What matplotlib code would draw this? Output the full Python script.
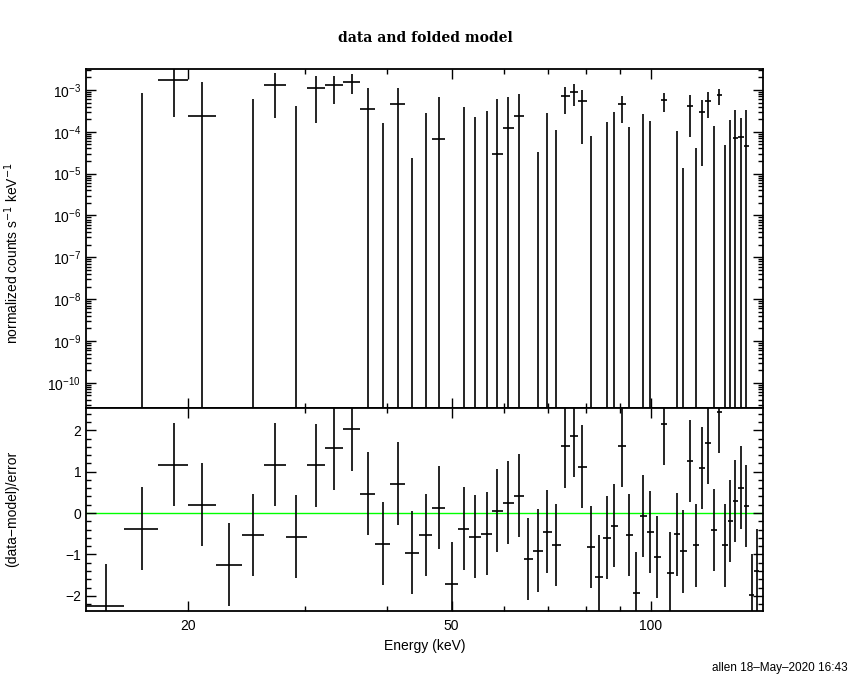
"""
XSPEC style plot: data and folded model (top) with residuals in
units of sigma (bottom). Output: out.png
"""

import numpy as np
import matplotlib.pyplot as plt
from matplotlib.ticker import (FixedLocator, FuncFormatter, LogLocator,
                               MultipleLocator, NullFormatter)

# Energy bin edges (keV), 58 channels
edges = np.array([
    14.0, 16.0, 18.0, 20.0, 22.0, 24.07, 26.0, 28.06, 30.18, 32.13,
    34.27, 36.35, 38.30, 40.42, 42.58, 44.71, 46.78, 48.94, 51.12, 53.20,
    55.47, 57.53, 59.78, 62.11, 64.31, 66.35, 68.70, 70.89, 73.14, 75.47,
    77.60, 80.06, 82.32, 84.80, 87.04, 89.18, 91.70, 93.96, 96.44, 98.65,
    101.26, 103.57, 105.94, 108.36, 110.84, 113.37, 115.77, 118.21, 120.70, 123.25,
    125.85, 128.28, 130.76, 133.05, 135.62, 138.24, 140.91, 143.38, 146.15,
])

# normalized counts s^-1 keV^-1 per channel
rate = np.array([
    -3.4e-3, -5.3e-4, 1.76e-3, 2.44e-4, -1.5e-3, -7.0e-4, 1.34e-3, -5.6e-4, 1.14e-3, 1.34e-3,
    1.58e-3, 3.6e-4, -4.5e-4, 4.7e-4, -5.86e-4, -3.25e-4, 6.9e-5, -1.03e-3, -2.45e-4, -2.9e-4,
    -3.2e-4, 2.9e-5, 1.26e-4, 2.44e-4, -5.6e-4, -3.27e-4, -2.23e-4, -3.8e-4, 7.3e-4, 9.1e-4,
    5.3e-4, -3.5e-4, -6.2e-4, -2.5e-4, -1.3e-4, 4.5e-4, -1.43e-4, -5.8e-4, -1.9e-5, -1.6e-4,
    -3.0e-4, 5.8e-4, -3.6e-4, -1.07e-4, -1.56e-4, 4.2e-4, -1.58e-4, 3.0e-4, 5.5e-4, -9.3e-5,
    7.4e-4, -1.67e-4, -4.6e-5, 7.3e-5, 7.6e-5, 4.65e-5, -5.0e-4, -3.5e-4,
])

rate_err = np.array([
    1.5e-3, 1.39e-3, 1.54e-3, 1.33e-3, 1.2e-3, 1.32e-3, 1.13e-3, 9.8e-4, 9.8e-4, 8.7e-4,
    7.8e-4, 7.8e-4, 6.1e-4, 6.6e-4, 6.1e-4, 6.1e-4, 6.2e-4, 6.0e-4, 6.45e-4, 5.1e-4,
    6.4e-4, 5.9e-4, 5.67e-4, 5.7e-4, 5.0e-4, 3.6e-4, 5.0e-4, 4.9e-4, 4.7e-4, 5.0e-4,
    4.8e-4, 4.3e-4, 4.0e-4, 4.2e-4, 4.2e-4, 2.85e-4, 2.7e-4, 3.0e-4, 2.8e-4, 3.4e-4,
    2.8e-4, 2.8e-4, 2.5e-4, 2.1e-4, 1.7e-4, 3.45e-4, 2.0e-4, 2.85e-4, 3.4e-4, 2.3e-4,
    3.0e-4, 2.15e-4, 2.4e-4, 2.5e-4, 1.35e-4, 2.9e-4, 2.5e-4, 2.5e-4,
])

# (data-model)/error
resid = np.array([
    -2.24, -0.38, 1.17, 0.20, -1.25, -0.53, 1.17, -0.57, 1.15, 1.56,
    2.02, 0.47, -0.74, 0.71, -0.96, -0.53, 0.13, -1.71, -0.38, -0.57,
    -0.50, 0.06, 0.25, 0.42, -1.11, -0.91, -0.45, -0.77, 1.61, 1.87,
    1.12, -0.82, -1.54, -0.60, -0.31, 1.63, -0.53, -1.94, -0.07, -0.46,
    -1.06, 2.15, -1.45, -0.51, -0.92, 1.26, -0.78, 1.09, 1.69, -0.41,
    2.45, -0.78, -0.19, 0.29, 0.61, 0.17, -1.99, -1.39,
])

e_lo = edges[:-1]
e_hi = edges[1:]
e_mid = 0.5 * (e_lo + e_hi)

plt.rcParams['font.family'] = ['Liberation Sans', 'DejaVu Sans']
plt.rcParams['axes.linewidth'] = 1.3

fig = plt.figure(figsize=(8.5, 6.8), dpi=100)
ax1 = fig.add_axes([0.1012, 0.4007, 0.7968, 0.4978])
ax2 = fig.add_axes([0.1012, 0.1019, 0.7968, 0.2988], sharex=ax1)

LW = 1.2

# Top panel: data points (negative lower bounds run off the bottom)
up = rate + rate_err
low = np.where(rate - rate_err > 0, rate - rate_err, 1e-30)
shown = up > 0
ax1.vlines(e_mid[shown], low[shown], up[shown], color='k', lw=LW)
pos = rate > 0
ax1.hlines(rate[pos], e_lo[pos], e_hi[pos], color='k', lw=LW)

ax1.set_xscale('log')
ax1.set_yscale('log')
ax1.set_xlim(14.0, 148.1)
ax1.set_ylim(2.58e-11, 3.16e-3)
ax1.yaxis.set_major_locator(LogLocator(base=10, numticks=30))
ax1.yaxis.set_minor_locator(LogLocator(base=10, subs=np.arange(2, 10), numticks=30))
ax1.yaxis.set_minor_formatter(NullFormatter())
ax1.set_ylabel('normalized counts s$^{-1}$ keV$^{-1}$', fontsize=10, va='center')
ax1.yaxis.set_label_coords(-0.109, 0.456)

# Bottom panel: residuals
ax2.errorbar(e_mid, resid, xerr=[e_mid - e_lo, e_hi - e_mid], yerr=1.0,
             fmt='none', ecolor='k', elinewidth=LW, capsize=0)
ax2.axhline(0, color='#00ff00', lw=1.0, zorder=0)
ax2.set_ylim(-2.36, 2.55)
ax2.yaxis.set_major_locator(MultipleLocator(1))
ax2.yaxis.set_minor_locator(MultipleLocator(0.2))
ax2.set_ylabel('(data\u2212model)/error', fontsize=10, va='center')
ax2.yaxis.set_label_coords(-0.109, 0.5)
ax2.set_xlabel('Energy (keV)', fontsize=10, labelpad=4)

ax2.xaxis.set_major_locator(FixedLocator([20, 50, 100]))
ax2.xaxis.set_minor_locator(FixedLocator([30, 40, 60, 70, 80, 90]))
ax2.xaxis.set_major_formatter(FuncFormatter(lambda v, p: '%g' % v))
ax2.xaxis.set_minor_formatter(NullFormatter())

for ax in (ax1, ax2):
    ax.tick_params(which='both', direction='in', top=True, right=True,
                   labelsize=10, width=1.0)
    ax.tick_params(which='major', length=7)
    ax.tick_params(which='minor', length=3.5)
    ax.tick_params(axis='x', pad=6)
ax1.tick_params(labelbottom=False)

fig.text(0.5, 0.944, 'data and folded model', ha='center', va='center',
         family='DejaVu Serif', fontweight='bold', fontsize=10)
fig.text(0.997, 0.0176, 'allen 18\u2013May\u20132020 16:43', ha='right',
         va='center', fontsize=8.5)

fig.savefig('out.png', dpi=100)
